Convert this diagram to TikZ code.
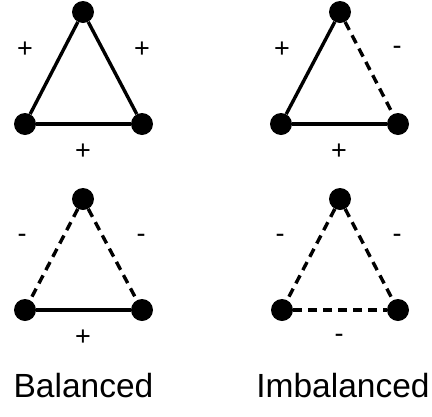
\documentclass[tikz,border=0pt]{standalone}
\usepackage{fontspec}
\setmainfont{Liberation Sans}
\begin{document}
\begin{tikzpicture}[x=1pt,y=-1pt,
  dot/.style={circle,fill=black,inner sep=0pt,minimum size=22pt},
  posedge/.style={line width=3.4pt},
  negedge/.style={line width=3.4pt,dash pattern=on 9pt off 6pt},
  sign/.style={font=\fontsize{27}{27}\selectfont,inner sep=0pt},
  title/.style={font=\fontsize{33.5}{34}\selectfont,anchor=base,inner sep=0pt}]
\useasboundingbox (0,0) rectangle (432,416);
% top left
\node[dot] (a1) at (83,12) {};
\node[dot] (b1) at (25,124) {};
\node[dot] (c1) at (142,124) {};
\draw[posedge] (a1) -- (b1);
\draw[posedge] (a1) -- (c1);
\draw[posedge] (b1) -- (c1);
\node[sign] (s1a) at (25,50) {+};
\node[sign] (s1b) at (142,50) {+};
\node[sign] (s1c) at (83,152) {+};
% top right
\node[dot] (a2) at (340,12) {};
\node[dot] (b2) at (281,124) {};
\node[dot] (c2) at (398,124) {};
\draw[posedge] (a2) -- (b2);
\draw[negedge] (a2) -- (c2);
\draw[posedge] (b2) -- (c2);
\node[sign] (s2a) at (282,50) {+};
\node[sign] (s2b) at (397,50) {-};
\node[sign] (s2c) at (339,152) {+};
% bottom left
\node[dot] (a3) at (83,199) {};
\node[dot] (b3) at (25,310) {};
\node[dot] (c3) at (142,310) {};
\draw[negedge] (a3) -- (b3);
\draw[negedge] (a3) -- (c3);
\draw[posedge] (b3) -- (c3);
\node[sign] (s3a) at (22,238) {-};
\node[sign] (s3b) at (141,238) {-};
\node[sign] (s3c) at (83,338) {+};
% bottom right
\node[dot] (a4) at (340,199) {};
\node[dot] (b4) at (282,310) {};
\node[dot] (c4) at (398,310) {};
\draw[negedge] (a4) -- (b4);
\draw[negedge] (a4) -- (c4);
\draw[negedge] (b4) -- (c4);
\node[sign] (s4a) at (280,238) {-};
\node[sign] (s4b) at (397,238) {-};
\node[sign] (s4c) at (339,338) {-};
% titles
\node[title] (t1) at (83.5,397) {Balanced};
\node[title] (t2) at (343,397) {Imbalanced};
\end{tikzpicture}
\end{document}
